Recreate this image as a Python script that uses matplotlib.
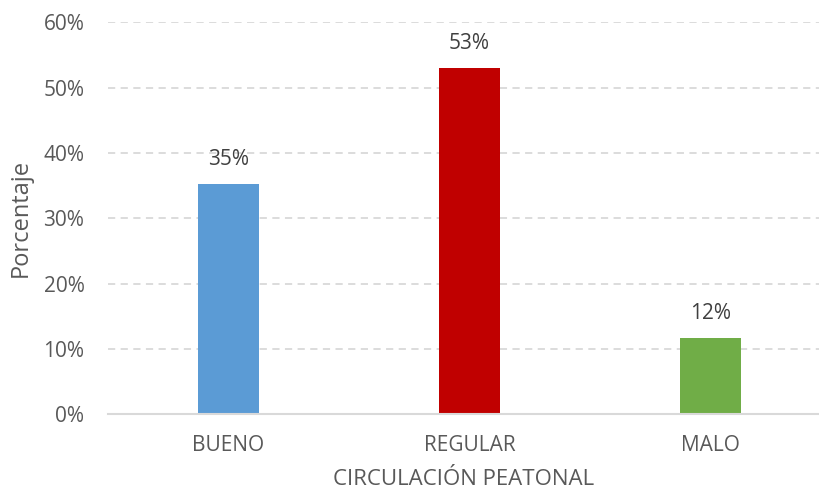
import matplotlib.pyplot as plt
from matplotlib.ticker import PercentFormatter

plt.rcParams['font.family'] = ['Open Sans', 'DejaVu Sans']

categories = ["BUENO", "REGULAR", "MALO"]
values = [35.3, 53.0, 11.7]
value_labels = ["35%", "53%", "12%"]
colors = ["#5b9bd5", "#c00000", "#70ad47"]
y_ticks = [0, 10, 20, 30, 40, 50, 60]

text_gray = "#595959"
grid_gray = "#d9d9d9"

fig = plt.figure(figsize=(8.2, 4.96), dpi=100)
ax = fig.add_axes([108 / 820, 81.7 / 496, 712 / 820, 392 / 496])

x = range(len(categories))
bars = ax.bar(x, values, width=0.253, color=colors, zorder=3)

for bar, lab in zip(bars, value_labels):
    ax.annotate(lab, (bar.get_x() + bar.get_width() / 2, bar.get_height()),
                xytext=(0, 10), textcoords="offset points",
                ha="center", va="bottom", fontsize=15, color="#404040")

ax.set_xlim(-0.5, 2.454)
ax.set_ylim(0, 60)
ax.set_yticks(y_ticks)
ax.yaxis.set_major_formatter(PercentFormatter(decimals=0))
ax.set_xticks(list(x))
ax.set_xticklabels(categories)

ax.grid(axis="y", color=grid_gray, linestyle=(0, (4, 3)), linewidth=1.3, zorder=0)
ax.tick_params(axis="both", length=0, labelsize=15, labelcolor=text_gray)
ax.tick_params(axis="x", pad=15)
ax.tick_params(axis="y", pad=17)

for side in ["top", "right", "left"]:
    ax.spines[side].set_visible(False)
ax.spines["bottom"].set_color(grid_gray)
ax.spines["bottom"].set_linewidth(1.5)
ax.spines["bottom"].set_zorder(4)

ax.set_ylabel("Porcentaje", fontsize=17, color=text_gray, labelpad=8)
ax.set_xlabel("CIRCULACIÓN PEATONAL", fontsize=16, color=text_gray, labelpad=9)

fig.savefig("out.png", dpi=100)
